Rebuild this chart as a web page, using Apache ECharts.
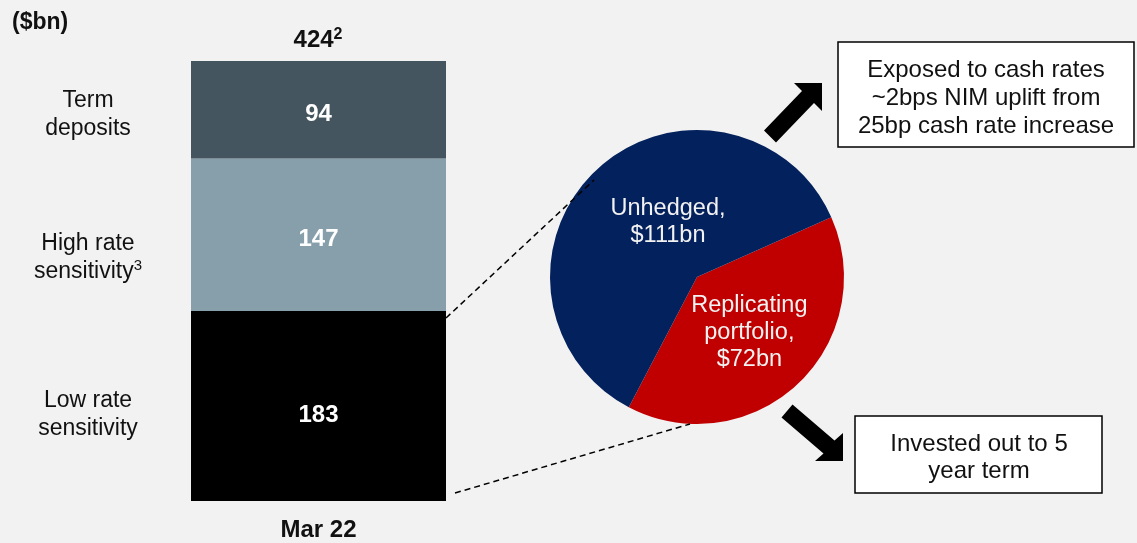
<html lang="en">
<head>
    <meta charset="UTF-8">
    <title>Deposits</title>
    <script src="https://cdn.jsdelivr.net/npm/echarts@6/dist/echarts.min.js"></script>
    <style>
        html, body { margin: 0; padding: 0; background: #f2f2f2; }
        #main { width: 1137px; height: 543px; }
    </style>
</head>
<body>
    <div id="main"></div>
    <script type="text/javascript">
        // data
        var categories = ['Mar 22'];
        var segmentNames = ['Low rate sensitivity', 'High rate sensitivity', 'Term deposits'];
        var segmentValues = [183, 147, 94];
        var segmentColors = ['#000000', '#879fab', '#44555f'];
        // left labels, {s|..} is a superscript footnote
        var leftLabels = ['Low rate\nsensitivity', 'High rate\nsensitivity{s|3}', 'Term\ndeposits'];
        var pieNames = ['Replicating\nportfolio', 'Unhedged'];
        var pieValues = [72, 111];
        var pieColors = ['#c00000', '#03215c'];

        var FONT = '"Liberation Sans", Arial, sans-serif';
        var total = segmentValues.reduce(function (a, b) { return a + b; }, 0);

        function pieLabel(name, value) {
            return name + ',\n$' + value + 'bn';
        }

        var chart = echarts.init(document.getElementById('main'));

        var labelOffsets = [[0, 9], [0, 5], [0, 5]];
        var series = segmentValues.map(function (v, i) {
            return {
                name: segmentNames[i],
                type: 'bar',
                stack: 'total',
                barWidth: '100%',
                data: [v],
                itemStyle: { color: segmentColors[i] },
                label: {
                    show: true,
                    position: 'inside',
                    offset: labelOffsets[i],
                    color: '#fff',
                    fontFamily: FONT,
                    fontWeight: 'bold',
                    fontSize: 24
                },
                silent: true
            };
        });

        series.push({
            type: 'pie',
            center: [697, 277],
            radius: 147,
            startAngle: 24,
            clockwise: true,
            silent: true,
            z: 3,
            data: pieValues.map(function (v, i) {
                return {
                    name: pieNames[i],
                    value: v,
                    itemStyle: { color: pieColors[i] },
                    // unhedged label is placed by hand below
                    label: { show: i === 0 }
                };
            }),
            label: {
                position: 'inside',
                formatter: function (p) { return pieLabel(p.name, p.value); },
                fontFamily: FONT, fontSize: 23.5, lineHeight: 27, color: '#f2f2f2', align: 'center'
            },
            labelLine: { show: false }
        });

        var graphic = [
            { type: 'text', left: 12, top: 11, style: { text: '($bn)', fontFamily: FONT, fontWeight: 'bold', fontSize: 23, fill: '#111' } },
            {
                type: 'text', x: 318, y: 40,
                style: {
                    text: '{a|' + total + '}{s|2}', align: 'center', verticalAlign: 'middle',
                    rich: {
                        a: { fontFamily: FONT, fontWeight: 'bold', fontSize: 24, lineHeight: 26, fill: '#111' },
                        s: { fontFamily: FONT, fontWeight: 'bold', fontSize: 16, lineHeight: 16, verticalAlign: 'top', fill: '#111' }
                    }
                }
            },
            {
                type: 'text', z: 20, x: 668, y: 222,
                style: { text: pieLabel(pieNames[1], pieValues[1]), fontFamily: FONT, fontSize: 23.5, lineHeight: 27, fill: '#f2f2f2', align: 'center', verticalAlign: 'middle' }
            }
        ];
        var labelY = [415, 258, 115];
        leftLabels.forEach(function (t, i) {
            graphic.push({
                type: 'text', x: 88, y: labelY[i],
                style: {
                    text: t, fontFamily: FONT, fontSize: 23, lineHeight: 28, fill: '#111', align: 'center', verticalAlign: 'middle',
                    rich: { s: { fontFamily: FONT, fontSize: 15, lineHeight: 15, verticalAlign: 'top', fill: '#111' } }
                }
            });
        });

        // dashed connectors
        graphic.push({ type: 'line', z: 10, shape: { x1: 446, y1: 318, x2: 594, y2: 180 }, style: { stroke: '#000', lineWidth: 1.5, lineDash: [6, 4] } });
        graphic.push({ type: 'line', z: 10, shape: { x1: 455, y1: 493, x2: 690, y2: 424 }, style: { stroke: '#000', lineWidth: 1.5, lineDash: [6, 4] } });

        // arrows
        graphic.push({ type: 'polygon', z: 10, shape: { points: [[822, 83], [822, 111], [814, 103], [776, 142.5], [764, 130.5], [802, 91], [794, 83]] }, style: { fill: '#000' } });
        graphic.push({ type: 'polygon', z: 10, shape: { points: [[843, 461], [815, 461], [823.5, 453.5], [781.5, 417.5], [792.5, 404.5], [834.5, 440.5], [843, 433]] }, style: { fill: '#000' } });

        // text boxes
        graphic.push({ type: 'rect', z: 10, shape: { x: 838, y: 42, width: 296, height: 105 }, style: { fill: '#fff', stroke: '#000', lineWidth: 1.5 } });
        graphic.push({ type: 'text', z: 11, x: 986, y: 98, style: { text: 'Exposed to cash rates\n~2bps NIM uplift from\n25bp cash rate increase', fontFamily: FONT, fontSize: 24, lineHeight: 28, fill: '#111', align: 'center', verticalAlign: 'middle' } });
        graphic.push({ type: 'rect', z: 10, shape: { x: 855, y: 416, width: 247, height: 77 }, style: { fill: '#fff', stroke: '#000', lineWidth: 1.5 } });
        graphic.push({ type: 'text', z: 11, x: 979, y: 458, style: { text: 'Invested out to 5\nyear term', fontFamily: FONT, fontSize: 24, lineHeight: 27, fill: '#111', align: 'center', verticalAlign: 'middle' } });

        var option = {
            backgroundColor: '#f2f2f2',
            animation: false,
            grid: { left: 191, width: 255, top: 61, bottom: 42 },
            xAxis: {
                type: 'category',
                data: categories,
                axisLine: { show: false },
                axisTick: { show: false },
                axisLabel: { color: '#111', fontFamily: FONT, fontWeight: 'bold', fontSize: 24, margin: 17 }
            },
            yAxis: {
                type: 'value',
                min: 0,
                max: total,
                show: false,
                splitLine: { show: false }
            },
            series: series,
            graphic: graphic
        };
        chart.setOption(option);
    </script>
</body>
</html>
